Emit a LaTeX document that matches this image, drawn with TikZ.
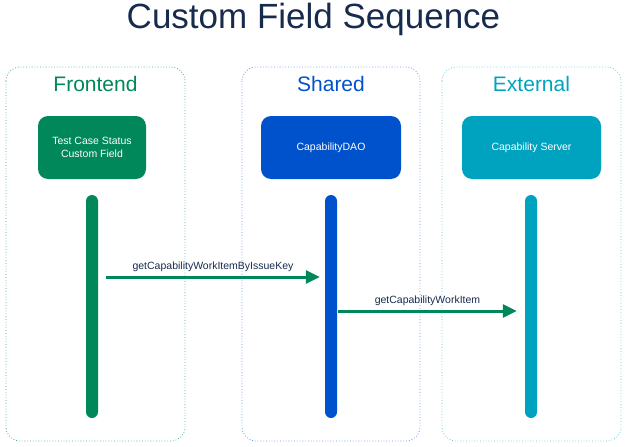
\documentclass[tikz,border=0pt]{standalone}
\usepackage{fontspec}
\setmainfont{Liberation Sans}
\usetikzlibrary{arrows.meta}

\definecolor{frontgreen}{HTML}{00875A}
\definecolor{sharedblue}{HTML}{0052CC}
\definecolor{externalteal}{HTML}{00A3BF}
\definecolor{titlenavy}{HTML}{172B4D}

\begin{document}
\begin{tikzpicture}[x=1pt,y=-1pt,
    lane/.style={draw, dotted, line width=0.8pt, rounded corners=14pt},
    lanehead/.style={font=\fontsize{21}{25}\selectfont},
    component/.style={rounded corners=10pt, text=white, minimum height=63pt, align=center, font=\fontsize{10.5}{13}\selectfont},
    lifeline/.style={rounded corners=6pt, minimum width=12pt, minimum height=223pt, inner sep=0pt},
    call/.style={-{Triangle[length=14pt,width=13pt]}, line width=3pt, frontgreen},
    calltext/.style={above, text=titlenavy, font=\fontsize{10.5}{13}\selectfont, inner sep=4pt}]
  \useasboundingbox (0,0) rectangle (627,447);

  \node[text=titlenavy, font=\fontsize{35}{40}\selectfont] (title) at (313.5,19) {Custom Field Sequence};

  % lanes
  \draw[lane, frontgreen!70] (6,67) rectangle (185,441);
  \draw[lane, sharedblue!60] (242,67) rectangle (420,441);
  \draw[lane, externalteal!60] (442,67) rectangle (621,441);

  \node[lanehead, text=frontgreen] (fronthead) at (95.5,84) {Frontend};
  \node[lanehead, text=sharedblue] (sharedhead) at (331,84) {Shared};
  \node[lanehead, text=externalteal] (externalhead) at (531.5,84) {External};

  % components
  \node[component, fill=frontgreen, minimum width=108pt] (field) at (92,147.5) {Test Case Status\\Custom Field};
  \node[component, fill=sharedblue, minimum width=140pt] (dao) at (331,147.5) {CapabilityDAO};
  \node[component, fill=externalteal, minimum width=139pt] (server) at (531.5,147.5) {Capability Server};

  % lifelines
  \node[lifeline, fill=frontgreen] (fieldline) at (92,306.5) {};
  \node[lifeline, fill=sharedblue] (daoline) at (331,306.5) {};
  \node[lifeline, fill=externalteal] (serverline) at (531,306.5) {};

  % calls
  \draw[call] ([xshift=8pt]fieldline.east |- 0,277) -- ([xshift=-5pt]daoline.west |- 0,277)
    node[midway, calltext] (call1) {getCapabilityWorkItemByIssueKey};
  \draw[call] ([xshift=1pt]daoline.east |- 0,311) -- ([xshift=-8pt]serverline.west |- 0,311)
    node[midway, calltext] (call2) {getCapabilityWorkItem};

\end{tikzpicture}
\end{document}
